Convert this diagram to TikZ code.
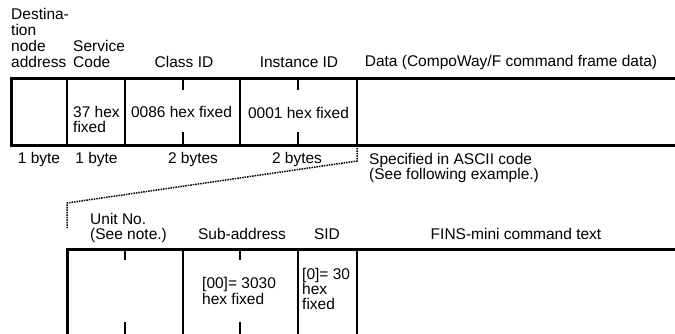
\documentclass[tikz,border=0pt]{standalone}
\usepackage{fontspec}
\setmainfont{Liberation Sans}
\usetikzlibrary{positioning}
\tikzset{
	frameline/.style ={line width=3pt, line join=miter},
	divline/.style   ={line width=1.5pt},
	bytetick/.style  ={line width=2pt},
	hdr/.style       ={inner sep=0pt, anchor=base, align=center},
	hdrl/.style      ={inner sep=0pt, anchor=base west, align=left},
	link/.style      ={line width=1.5pt, densely dotted},
}

\begin{document}
\begin{tikzpicture}[x=1pt, y=-1pt, font=\fontsize{15.5}{16}\selectfont]
	\useasboundingbox (0,0) rectangle (675,334);
	% ---------------- command frame ----------------
	\begin{scope}
		\draw[frameline] (675,78.5) -- (11,78.5) -- (11,145.5) -- (675,145.5);
		\draw[divline] (67,78.5) -- (67,145.5);
		\draw[divline] (125,78.5) -- (125,145.5);
		\draw[divline] (240,78.5) -- (240,145.5);
		\draw[divline] (357,78.5) -- (357,145.5);
		\draw[bytetick] (183,78.5) -- (183,90);
		\draw[bytetick] (183,132) -- (183,145.5);
		\draw[bytetick] (298,78.5) -- (298,90);
		\draw[bytetick] (298,132) -- (298,145.5);
		% field names (base = last line)
		\node[hdrl] (dstaddr) at (11,68) {Destina-\\tion\\node\\address};
		\node[hdrl] (svccode) at (73,68) {Service\\Code};
		\node[hdr] (classid) at (184,68) {Class ID};
		\node[hdr] (instid) at (299,68) {Instance ID};
		\node[hdr] (datalbl) at (511,67) {Data (CompoWay/F command frame data)};
		% field values
		\node[hdrl] (svcval) at (73,132.5) {37 hex\\[-1.5pt]fixed};
		\node[hdr] (classval) at (181.5,117.5) {0086 hex fixed};
		\node[hdr] (instval) at (298.5,119) {0001 hex fixed};
		% field sizes
		\node[hdr] (sz1) at (39,163.5) {1 byte};
		\node[hdr] (sz2) at (96.5,163.5) {1 byte};
		\node[hdr] (sz3) at (193,163.5) {2 bytes};
		\node[hdr] (sz4) at (297,163.5) {2 bytes};
		\node[hdrl] (asciinote) at (369,180) {Specified in ASCII code\\(See following example.)};
	\end{scope}
	% ---------------- data field detail ----------------
	\begin{scope}
		\draw[frameline] (675,249) -- (67,249) -- (67,340);
		\draw[divline] (183,249) -- (183,340);
		\draw[divline] (298,249) -- (298,340);
		\draw[divline] (357,249) -- (357,340);
		\draw[bytetick] (125,249) -- (125,260);
		\draw[bytetick] (125,322) -- (125,340);
		\draw[bytetick] (240,249) -- (240,260);
		\draw[bytetick] (240,322) -- (240,340);
		% field names
		\node[hdrl] (unitno) at (90,240) {Unit No.\\[-1pt](See note.)};
		\node[hdr] (subaddr) at (242,240) {Sub-address};
		\node[hdr] (sid) at (327,240) {SID};
		\node[hdr] (finstext) at (516,240) {FINS-mini command text};
		% field values
		\node[hdrl] (subval) at (202,304) {[00]= 3030\\hex fixed};
		\node[hdrl] (sidval) at (302,309) {[0]= 30\\[-1pt]hex\\[-1pt]fixed};
	\end{scope}
	% ---------------- expansion link ----------------
	\coordinate (dataend) at (357,145.5);
	\coordinate (bendr) at (357,161);
	\coordinate (bendl) at (67,203);
	\coordinate (unitend) at (67,228);
	\draw[link] (dataend) -- (bendr) -- (bendl) -- (unitend);
\end{tikzpicture}
\end{document}
